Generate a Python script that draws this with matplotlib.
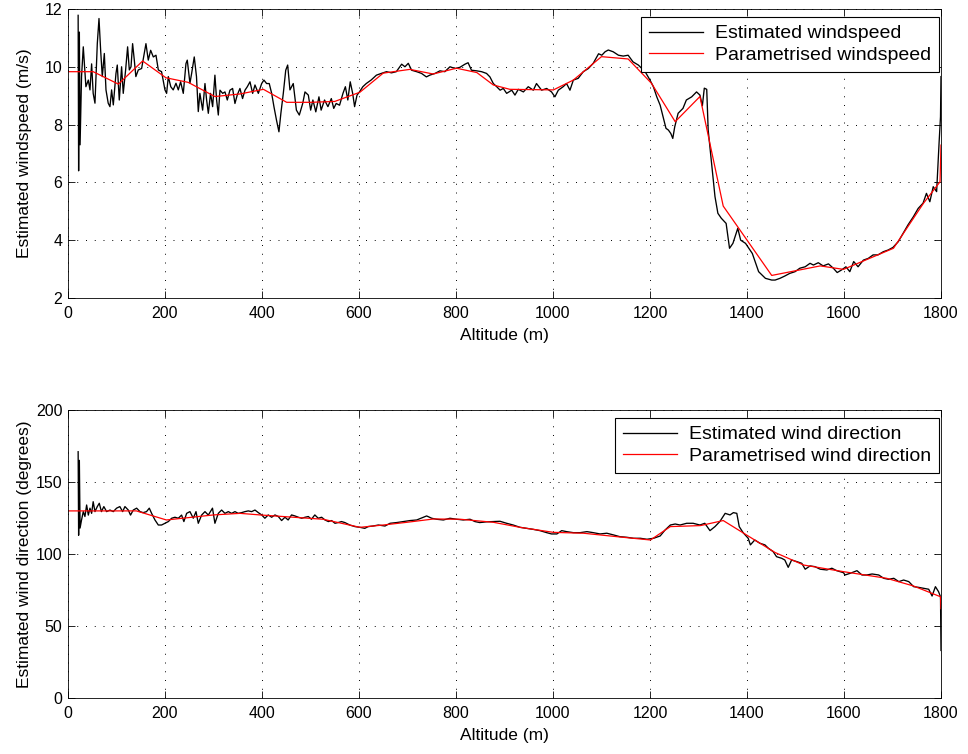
import matplotlib
matplotlib.use("Agg")
import matplotlib.pyplot as plt
import numpy as np

plt.rcParams['font.family'] = ['Liberation Sans', 'DejaVu Sans']

# ---- top panel: windspeed ----
alt_ws = [21, 22, 23.5, 25, 28, 31.6, 37, 42, 45.4, 48.8, 52, 55.7, 60.5, 64, 67.4, 70.8,
          75, 78.4, 83, 86.6, 90, 93.5, 99, 101.7, 105.8, 110.6, 114, 118.9, 123, 126.5,
          130, 133.3, 136.8, 140, 145, 151.9, 160.8, 165.6, 170.5, 176, 181.5, 186.3, 193,
          200, 203.4, 206.9, 212, 217, 222.7, 227.5, 232.3, 237.8, 243.3, 246, 251.5, 255,
          260.4, 265, 268.7, 272, 277.7, 282.5, 285.9, 289.4, 294, 298.3, 303, 306.5, 310,
          313.4, 319, 323.7, 328.5, 334, 339.5, 344.3, 349, 354.6, 360, 365, 369.8, 375.3,
          380.8, 385.6, 392.5, 399.4, 404, 409.6, 415, 420, 424.7, 430, 435, 439, 444, 449,
          453, 457.7, 464.5, 471, 477, 484, 488.7, 495.6, 500.4, 505, 511, 517.5, 522, 529,
          536, 543, 548, 553, 560, 567, 572, 577, 582, 587, 591, 596, 601, 608, 615, 625,
          636, 646, 656.7, 667, 677, 688, 694.8, 701.7, 708.6, 719, 729, 739, 746, 756.7,
          767, 777, 787.6, 798, 808, 818.6, 825, 832, 842.6, 852.9, 863, 870, 877, 884, 891,
          897.6, 904.5, 915, 921.6, 928.5, 939, 949, 959.5, 966, 976.6, 987, 997, 1004,
          1011, 1021, 1028, 1035, 1042, 1052, 1062.5, 1073, 1083, 1094, 1100.7, 1107.5,
          1114, 1124, 1135, 1145, 1155, 1165, 1176, 1190, 1200, 1207, 1214, 1221, 1228,
          1233, 1238, 1243, 1247, 1251, 1258, 1268, 1275, 1286, 1296, 1303, 1308, 1312,
          1317, 1320, 1327, 1334, 1340, 1347, 1357, 1364, 1371, 1381, 1387, 1397, 1411,
          1424, 1438, 1451, 1458, 1468, 1478, 1488, 1499, 1509, 1520, 1530, 1537, 1547,
          1557, 1568, 1578, 1586, 1595, 1604, 1612, 1620, 1629, 1640, 1650, 1660, 1670,
          1681, 1691, 1701, 1712, 1722, 1732, 1743, 1753, 1763, 1770, 1777, 1784, 1791,
          1796, 1799, 1800]
ws_est = [11.78, 6.4, 11.2, 7.3, 9.66, 10.69, 9.31, 9.54, 9.2, 10.1, 9.08, 8.74, 10.8, 11.67,
          10.57, 9.66, 10.46, 9.2, 8.74, 8.62, 9.2, 8.68, 9.77, 10.06, 8.85, 10.0, 9.08, 9.89,
          10.69, 9.89, 10.0, 10.8, 10.23, 9.66, 9.89, 9.94, 10.8, 10.23, 10.57, 10.34, 10.4,
          9.89, 9.83, 9.2, 9.08, 9.66, 9.31, 9.2, 9.43, 9.2, 9.48, 9.08, 10.11, 10.23, 9.43,
          9.77, 10.34, 9.66, 8.45, 9.08, 8.5, 9.42, 8.85, 8.39, 9.08, 8.62, 9.71, 8.85, 8.33,
          9.19, 9.08, 9.13, 8.85, 9.19, 9.25, 8.73, 9.02, 9.25, 8.9, 9.19, 9.31, 9.48, 9.08,
          9.37, 9.08, 9.42, 9.54, 9.42, 9.42, 9.08, 8.62, 8.15, 7.75, 8.39, 9.08, 9.88, 10.06,
          9.2, 9.42, 8.5, 8.33, 8.73, 9.13, 9.02, 8.5, 8.85, 8.44, 8.96, 8.5, 8.85, 8.62, 8.9,
          8.56, 8.73, 8.67, 9.08, 9.31, 8.85, 9.48, 9.08, 8.62, 9.02, 9.13, 9.31, 9.42, 9.54,
          9.71, 9.77, 9.83, 9.79, 9.83, 10.09, 10.0, 10.12, 9.88, 9.83, 9.77, 9.65, 9.71, 9.77,
          9.86, 9.83, 10.0, 9.94, 9.98, 10.09, 10.14, 9.88, 9.86, 9.83, 9.77, 9.65, 9.42, 9.31,
          9.19, 9.25, 9.08, 9.19, 9.02, 9.22, 9.13, 9.31, 9.19, 9.42, 9.19, 9.25, 9.13, 8.96,
          9.19, 9.31, 9.42, 9.19, 9.54, 9.6, 9.83, 9.94, 10.12, 10.45, 10.4, 10.52, 10.58,
          10.52, 10.4, 10.37, 10.4, 10.17, 10.06, 9.83, 9.54, 9.31, 8.96, 8.67, 8.21, 7.87,
          7.81, 7.69, 7.52, 7.92, 8.39, 8.56, 8.85, 8.96, 9.13, 9.02, 8.65, 9.26, 9.22, 7.81,
          6.66, 5.51, 4.93, 4.76, 4.58, 3.72, 3.89, 4.41, 4.0, 3.89, 3.54, 2.91, 2.68, 2.62,
          2.62, 2.68, 2.76, 2.85, 2.91, 3.03, 3.08, 3.2, 3.14, 3.22, 3.11, 3.18, 3.03, 2.88,
          2.97, 3.08, 2.91, 3.26, 3.08, 3.31, 3.37, 3.49, 3.49, 3.6, 3.66, 3.75, 3.95, 4.24,
          4.53, 4.81, 5.1, 5.28, 5.62, 5.33, 5.85, 5.68, 7.35, 8.27, 9.66]

alt_ws_par = [0, 52, 104, 154, 202, 248, 303, 355, 403, 451, 500, 550, 602, 650, 705, 753,
              801, 843, 877, 911, 1001, 1042, 1100, 1155, 1203, 1252, 1303, 1351, 1451,
              1551, 1599, 1702, 1764, 1798, 1800]
ws_par = [9.83, 9.83, 9.40, 10.2, 9.62, 9.46, 8.97, 9.06, 9.22, 8.77, 8.77, 8.80, 9.12, 9.78,
          9.91, 9.75, 9.95, 9.80, 9.37, 9.22, 9.20, 9.54, 10.35, 10.27, 9.43, 8.10, 8.97,
          5.18, 2.78, 3.11, 2.99, 3.72, 5.28, 6.02, 7.29]

# ---- bottom panel: wind direction ----
alt_wd = [21, 22, 23.5, 25, 28, 31.6, 35, 38.5, 42, 45.4, 48.8, 52, 55.7, 60.5, 64.6, 69, 74,
          79.7, 86.6, 93.5, 100.3, 107, 112.7, 117.5, 124.4, 129, 134.7, 141.6, 148.5, 155,
          162, 167.7, 172.5, 179.4, 186.3, 193, 200, 207, 213.8, 220.6, 227.5, 234.3, 239,
          244.7, 251.5, 258.4, 264, 268.7, 275.6, 282.5, 289.4, 298, 303, 310, 316.8, 323.7,
          330.6, 337.5, 344.3, 351, 358, 365, 371.8, 378.7, 385.6, 392.5, 399.4, 406, 413,
          420, 426.8, 433.7, 440.5, 447.4, 454, 461, 468, 475, 482, 489, 495.6, 502, 509,
          516, 523, 530, 537, 543.6, 550.5, 557, 564, 571, 581, 591.7, 602, 612, 619, 629,
          640, 653.6, 664, 677.7, 691.5, 705.5, 719, 732.6, 739.5, 750, 760, 774, 787.6,
          801.4, 815, 829, 839, 849, 863, 877, 890.7, 904.5, 918, 932, 945.6, 959, 973, 987,
          997, 1008, 1018, 1028, 1042, 1056, 1070, 1083, 1097, 1111, 1125, 1138, 1152, 1166,
          1180, 1193.8, 1207.6, 1221, 1231, 1242, 1252, 1262, 1275.6, 1289, 1303, 1313,
          1323.7, 1334, 1344, 1355, 1365, 1372, 1379, 1384, 1392, 1402.5, 1407, 1416,
          1426.8, 1437, 1444, 1454, 1461, 1471.5, 1478, 1485, 1492, 1502.6, 1513, 1520,
          1530, 1540, 1551, 1564.6, 1575, 1585, 1599, 1602, 1613, 1626.8, 1637, 1647, 1658,
          1671.6, 1682, 1692, 1702.7, 1713, 1723, 1733.5, 1743.6, 1754, 1764, 1774.7,
          1781.6, 1788.5, 1795, 1799, 1800]
wd_est = [171, 113, 165, 118, 123.6, 129.4, 126, 134, 127, 131.8, 128.2, 136.3, 129.4, 132.9,
          135.2, 129.4, 132.9, 129.4, 130.5, 129.4, 131.8, 132.9, 129.4, 132.9, 130.5, 127,
          130.5, 131.8, 129.4, 128.7, 129.4, 131.8, 128.2, 123.6, 120.1, 120.1, 121.3, 122.5,
          124.8, 125.5, 124.8, 127, 122.5, 128.2, 129.4, 124.8, 129.4, 121.3, 127, 129.4, 127,
          131.8, 121.3, 128.2, 130.5, 128.2, 129.4, 128.2, 129.4, 128.2, 128.7, 129.4, 129.9,
          129.4, 130.5, 128.7, 127.1, 124.8, 127.1, 125.5, 127.1, 126, 123.2, 125.5, 123.6,
          127.1, 126.4, 125.5, 124.8, 125.5, 126, 124.1, 127.1, 124.8, 125.5, 123.6, 122.5,
          123.2, 121.3, 121.8, 122.5, 121.8, 120.1, 119, 118.5, 117.8, 119, 119.4, 120.1,
          119.4, 121.3, 121.8, 122.5, 123.2, 123.6, 125.5, 126.4, 124.8, 124.1, 123.6, 124.8,
          124.1, 123.6, 124.1, 122.5, 121.8, 122.3, 122.5, 122.7, 121.3, 120.1, 118.5, 117.8,
          117.1, 116.2, 114.8, 113.9, 113.9, 116.2, 115.5, 114.8, 114.8, 115.5, 114.8, 113.9,
          114.4, 113.2, 112, 111.6, 110.9, 110.9, 110.2, 110.9, 112.5, 116.6, 120.1, 120.8,
          120.1, 121.3, 121.3, 120.1, 121.3, 116.2, 119, 122.5, 128.2, 127.1, 128.7, 128.2,
          119, 114.8, 110.9, 106.3, 109.7, 107.4, 106.3, 104, 101.6, 98.1, 97, 95.8, 90.7,
          95.8, 94.7, 93.5, 89.4, 91.7, 91.2, 89.4, 88.9, 90.1, 88.4, 87, 85.4, 86.6, 88.4,
          85.4, 85.4, 86.1, 85.4, 83.1, 82.4, 83.1, 80.8, 81.9, 80.8, 77.3, 76.8, 76.2, 75.5,
          70.8, 77.3, 73.8, 70.3, 33]

alt_wd_par = [0, 141, 203, 300, 355, 396, 465, 526, 602, 650, 699, 754, 809, 877, 932, 1001,
              1063, 1132, 1201, 1242, 1304, 1351, 1399, 1458, 1517, 1599, 1688, 1743, 1799,
              1800]
wd_par = [129.9, 129.9, 123.6, 127.1, 128.2, 127.1, 125.5, 124.1, 118.5, 120.1, 122, 124.3,
          124.1, 122, 118.5, 115, 114.4, 112, 109.7, 119, 119.7, 123.2, 113.2, 101, 92.3, 87.7,
          83.1, 77.8, 70.3, 62]

fig = plt.figure(figsize=(9.68, 7.54), dpi=100)
ax1 = fig.add_axes([0.0702, 0.6048, 0.9019, 0.3833])
ax2 = fig.add_axes([0.0702, 0.0743, 0.9019, 0.382])


def style(ax, yticks):
    ax.set_xlim(0, 1800)
    ax.set_xticks(np.arange(0, 1801, 200))
    ax.set_yticks(yticks)
    ax.set_ylim(yticks[0], yticks[-1])
    ax.grid(True, color='black', linestyle=(0, (1, 8)), linewidth=0.7)
    ax.tick_params(direction='in', top=True, right=True, length=5, width=0.6,
                   labelsize=11.5)
    ax.tick_params(axis='x', pad=6)
    ax.tick_params(axis='y', pad=4)
    for sp in ax.spines.values():
        sp.set_linewidth(0.6)


def add_legend(ax):
    leg = ax.legend(loc='upper right', bbox_to_anchor=(0.9977, 0.972), borderaxespad=0,
                    fontsize=14, fancybox=False, edgecolor='black', framealpha=1,
                    handlelength=2.8, handletextpad=0.6, borderpad=0.4, labelspacing=0.2)
    leg.get_frame().set_linewidth(0.8)


ax1.plot(alt_ws, ws_est, color='black', lw=0.95, label='Estimated windspeed')
ax1.plot(alt_ws_par, ws_par, color='red', lw=0.9, label='Parametrised windspeed')
style(ax1, [2, 4, 6, 8, 10, 12])
ax1.set_xlabel('Altitude (m)', fontsize=12.5, labelpad=5)
ax1.set_ylabel('Estimated windspeed (m/s)', fontsize=12.5)
ax1.yaxis.set_label_coords(-0.041, 0.5)
add_legend(ax1)

ax2.plot(alt_wd, wd_est, color='black', lw=0.95, label='Estimated wind direction')
ax2.plot(alt_wd_par, wd_par, color='red', lw=0.9, label='Parametrised wind direction')
style(ax2, [0, 50, 100, 150, 200])
ax2.set_xlabel('Altitude (m)', fontsize=12.5, labelpad=5)
ax2.set_ylabel('Estimated wind direction (degrees)', fontsize=12.5)
ax2.yaxis.set_label_coords(-0.041, 0.5)
add_legend(ax2)

plt.savefig('out.png', dpi=100)
